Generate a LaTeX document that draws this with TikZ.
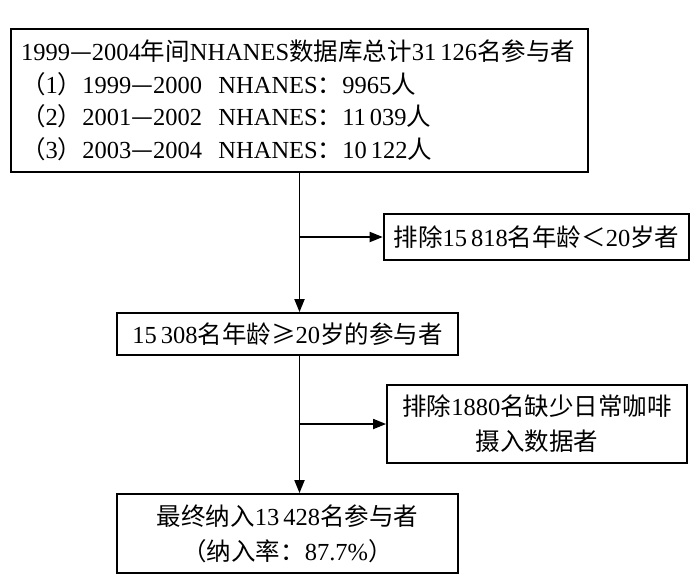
\documentclass[tikz,border=0pt]{standalone}
\usepackage{fontspec}
\setmainfont{Liberation Serif}
\newfontfamily\cjk{Noto Sans CJK SC}
\newcommand\zh[1]{{\cjk #1}}
\newcommand\ns{\hspace{4pt}}
\usetikzlibrary{arrows.meta}
\tikzset{
  box/.style={draw, line width=1.8pt, inner xsep=10pt, inner ysep=0pt,
    font=\fontsize{24.5}{32.5}\selectfont},
  conn/.style={line width=1.8pt},
  arr/.style={conn, -{Triangle[length=13pt,width=10pt]}}
}
\begin{document}
\begin{tikzpicture}[x=1pt,y=1pt]
\useasboundingbox (0,0) rectangle (700,-584);
\node[box, minimum width=577pt, minimum height=143pt, text width=557pt, align=left]
  (b1) at (299.5,-100.5)
  {1999\zh{—}2004\zh{年间}NHANES\zh{数据库总计}31\ns126\zh{名参与者}\\
   \zh{（}1\zh{）}1999\zh{—}2000\ \ NHANES\zh{：}9965\zh{人}\\
   \zh{（}2\zh{）}2001\zh{—}2002\ \ NHANES\zh{：}11\ns039\zh{人}\\
   \zh{（}3\zh{）}2003\zh{—}2004\ \ NHANES\zh{：}10\ns122\zh{人}};
\node[box, minimum width=301pt, minimum height=46pt] (b4) at (536.5,-237)
  {\zh{排除}15\ns818\zh{名年龄＜}20\zh{岁者}};
\node[box, minimum width=341pt, minimum height=42pt] (b2) at (287.5,-334)
  {15\ns308\zh{名年龄≥}20\zh{岁的参与者}};
\node[box, minimum width=300pt, minimum height=78pt, align=center,
  font=\fontsize{24.5}{35}\selectfont] (b5) at (537,-424)
  {\zh{排除}1880\zh{名缺少日常咖啡}\\\zh{摄入数据者}};
\node[box, minimum width=341pt, minimum height=79pt, align=center,
  font=\fontsize{24.5}{35}\selectfont] (b3) at (287.5,-533.5)
  {\zh{最终纳入}13\ns428\zh{名参与者}\\\zh{（纳入率：}87.7\%\zh{）}};
\coordinate (j1) at (b1.south |- b4.west);
\coordinate (j2) at (b1.south |- b5.west);
\draw[arr] (b1.south) -- (b1.south |- b2.north);
\draw[arr] (j1) -- (b4.west);
\draw[arr] (b1.south |- b2.south) -- (b1.south |- b3.north);
\draw[arr] (j2) -- (b5.west);
\end{tikzpicture}
\end{document}
